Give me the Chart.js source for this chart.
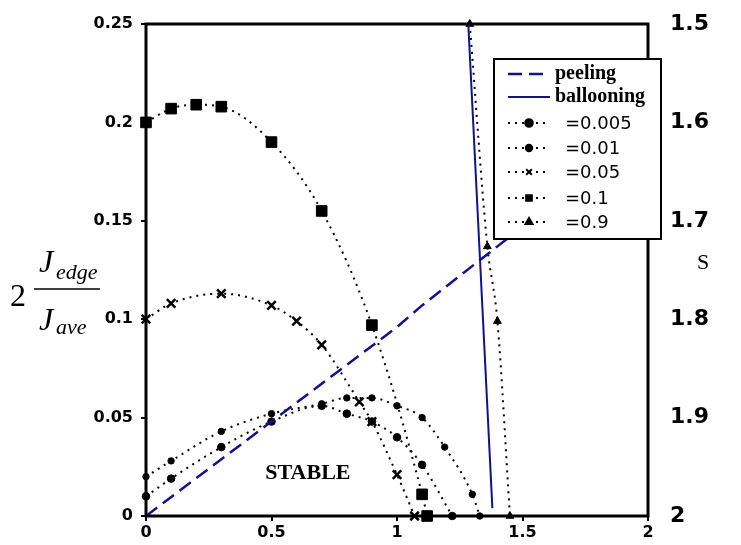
<!DOCTYPE html>
<html>
<head>
<meta charset="utf-8">
<script src="https://cdn.jsdelivr.net/npm/chart.js@4.4.1/dist/chart.umd.min.js"></script>
<style>
html,body{margin:0;padding:0;background:#fff;}
#wrap{width:741px;height:545px;position:relative;}
</style>
</head>
<body>
<div id="wrap"><canvas id="c" width="741" height="545"></canvas></div>
<script>
// ---- data ----
const seriesLabels = ['peeling', 'ballooning', '=0.005', '=0.01', '=0.05', '=0.1', '=0.9'];

const peelingX = [0, 0.5, 1.0, 1.1, 1.5];
const peelingY = [0, 0.048, 0.096, 0.107, 0.147];

const ballooningX = [1.284, 1.38];
const ballooningY = [0.25, 0.004];

const s005X = [0, 0.1, 0.3, 0.5, 0.7, 0.8, 0.9, 1.0, 1.1, 1.22];
const s005Y = [0.01, 0.019, 0.035, 0.048, 0.056, 0.052, 0.048, 0.040, 0.026, 0];

const s01X = [0, 0.1, 0.3, 0.5, 0.7, 0.8, 0.9, 1.0, 1.1, 1.19, 1.3, 1.33];
const s01Y = [0.02, 0.028, 0.043, 0.052, 0.057, 0.06, 0.06, 0.056, 0.05, 0.035, 0.011, 0];

const s05X = [0, 0.1, 0.3, 0.5, 0.6, 0.7, 0.85, 0.9, 1.0, 1.07];
const s05Y = [0.1, 0.108, 0.113, 0.107, 0.099, 0.087, 0.058, 0.048, 0.021, 0];

const s1X = [0, 0.1, 0.2, 0.3, 0.5, 0.7, 0.9, 1.1, 1.12];
const s1Y = [0.2, 0.207, 0.209, 0.208, 0.19, 0.155, 0.097, 0.011, 0];

const s9X = [1.29, 1.36, 1.4, 1.45];
const s9Y = [0.25, 0.137, 0.099, 0];

const xRange = [0, 2];      const xStep = 0.5;
const yRange = [0, 0.25];   const yStep = 0.05;
const sRange = [1.5, 2];    const sStep = 0.1;
const stableText = 'STABLE';
const yTitle = {lead: '2', num: 'J', numSub: 'edge', den: 'J', denSub: 'ave'};
const sTitle = 'S';

// ---- chart ----
const navy = '#12128e';
const numFont = '"DejaVu Sans", "Liberation Sans", Arial, sans-serif';
const serif = '"Liberation Serif", "Times New Roman", serif';

function pts(xs, ys) { return xs.map((x, i) => ({x: x, y: ys[i]})); }
function fmt(v) { return String(Number(Number(v).toFixed(4))); }
function noPad(s) { s.paddingTop = 0; s.paddingBottom = 0; s.paddingLeft = 0; s.paddingRight = 0; }

function dotted(label, xs, ys, style, radius, bw) {
  return {
    label: label, data: pts(xs, ys),
    borderColor: '#000', backgroundColor: '#000',
    borderWidth: 2, borderDash: [2, 5],
    pointStyle: style, pointRadius: radius, pointHoverRadius: radius,
    pointBorderWidth: bw, pointBackgroundColor: '#000', pointBorderColor: '#000',
    cubicInterpolationMode: 'monotone', fill: false, clip: 12,
    legendRadius: Math.min(radius, 4)
  };
}

const datasets = [
  {label: seriesLabels[0], data: pts(peelingX, peelingY), borderColor: navy, backgroundColor: navy,
   borderWidth: 2.5, borderDash: [14, 7], pointRadius: 0, fill: false, tension: 0},
  {label: seriesLabels[1], data: pts(ballooningX, ballooningY), borderColor: navy, backgroundColor: navy,
   borderWidth: 2, pointRadius: 0, fill: false, tension: 0},
  dotted(seriesLabels[2], s005X, s005Y, 'circle', 3.8, 1),
  dotted(seriesLabels[3], s01X, s01Y, 'circle', 3.2, 1),
  dotted(seriesLabels[4], s05X, s05Y, 'crossRot', 6, 2.5),
  dotted(seriesLabels[5], s1X, s1Y, 'rect', 7.5, 1),
  dotted(seriesLabels[6], s9X, s9Y, 'triangle', 4.5, 1)
];

const overlay = {
  id: 'overlay',
  afterDatasetsDraw(chart) {
    const ctx = chart.ctx, a = chart.chartArea, sx = chart.scales.x, sy = chart.scales.y;
    ctx.save();
    ctx.fillStyle = '#000';
    ctx.font = 'bold 22px ' + serif;
    ctx.textAlign = 'center'; ctx.textBaseline = 'middle';
    ctx.fillText(stableText, sx.getPixelForValue(0.645), sy.getPixelForValue(0.0215));
    ctx.lineWidth = 3; ctx.strokeStyle = '#000';
    ctx.strokeRect(a.left, a.top, a.right - a.left, a.bottom - a.top);
    ctx.restore();
  },
  afterDraw(chart) {
    const ctx = chart.ctx;
    ctx.save();
    // left axis title: 2 * J_edge / J_ave
    ctx.fillStyle = '#000';
    ctx.textBaseline = 'alphabetic'; ctx.textAlign = 'left';
    ctx.font = '32px ' + serif;
    ctx.fillText(yTitle.lead, 10, 306);
    ctx.font = 'italic 32px ' + serif;
    ctx.fillText(yTitle.num, 39, 272);
    ctx.fillText(yTitle.den, 39, 330);
    ctx.font = 'italic 22px ' + serif;
    ctx.fillText(yTitle.numSub, 56, 279);
    ctx.fillText(yTitle.denSub, 56, 334);
    ctx.lineWidth = 1.5; ctx.strokeStyle = '#000';
    ctx.beginPath(); ctx.moveTo(34, 289); ctx.lineTo(100, 289); ctx.stroke();
    // right axis title
    ctx.font = '22px ' + serif;
    ctx.textAlign = 'center'; ctx.textBaseline = 'middle';
    ctx.fillText(sTitle, 703, 263);

    // legend box
    const L = 494, T = 59, R = 661, B = 239;
    ctx.fillStyle = '#fff';
    ctx.fillRect(L, T, R - L, B - T);
    ctx.lineWidth = 2; ctx.strokeStyle = '#000';
    ctx.strokeRect(L, T, R - L, B - T);
    const rowsY = [74, 97, 123, 148, 172, 198, 222];
    chart.data.datasets.forEach((ds, i) => {
      const y = rowsY[i];
      ctx.save();
      ctx.strokeStyle = ds.borderColor;
      ctx.lineWidth = ds.borderWidth;
      ctx.setLineDash(ds.borderDash || []);
      ctx.beginPath();
      if (i < 2) { ctx.moveTo(508, y); ctx.lineTo(550, y); }
      else { ctx.moveTo(508, y); ctx.lineTo(546, y); }
      ctx.stroke();
      ctx.setLineDash([]);
      if (ds.pointRadius > 0) {
        ctx.fillStyle = '#000'; ctx.strokeStyle = '#000';
        Chart.helpers.drawPoint(ctx, {pointStyle: ds.pointStyle, radius: ds.legendRadius, rotation: 0,
          borderWidth: ds.pointStyle === 'crossRot' ? 2 : 1}, 529, y);
      }
      ctx.fillStyle = '#000';
      ctx.textAlign = 'left'; ctx.textBaseline = 'middle';
      if (i < 2) { ctx.font = 'bold 20px ' + serif; ctx.fillText(ds.label, 555, y); }
      else { ctx.font = '18px ' + numFont; ctx.fillText(ds.label, 565, y + 1); }
      ctx.restore();
    });
    ctx.restore();
  }
};

new Chart(document.getElementById('c'), {
  type: 'line',
  data: {datasets: datasets},
  plugins: [overlay],
  options: {
    responsive: false, devicePixelRatio: 1, animation: false,
    layout: {padding: {top: 24, left: 0, right: 0, bottom: 0}},
    plugins: {legend: {display: false}, tooltip: {enabled: false}},
    elements: {line: {borderCapStyle: 'butt'}},
    scales: {
      x: {
        type: 'linear', min: xRange[0], max: xRange[1],
        ticks: {stepSize: xStep, color: '#000', font: {family: numFont, size: 16, weight: 'bold'}, padding: 2, maxRotation: 0, callback: fmt},
        grid: {display: true, drawOnChartArea: false, drawTicks: true, tickLength: 5, color: '#000', lineWidth: 2},
        border: {display: false},
        afterFit(s) { s.height = 29; noPad(s); }
      },
      y: {
        type: 'linear', position: 'left', min: yRange[0], max: yRange[1],
        ticks: {stepSize: yStep, color: '#000', font: {family: numFont, size: 16, weight: 'bold'}, padding: 8, callback: fmt},
        grid: {display: true, drawOnChartArea: false, drawTicks: true, tickLength: 5, color: '#000', lineWidth: 2},
        border: {display: false},
        afterFit(s) { s.width = 146; noPad(s); }
      },
      y2: {
        type: 'linear', position: 'right', min: sRange[0], max: sRange[1], reverse: true,
        ticks: {stepSize: sStep, color: '#000', font: {family: numFont, size: 22, weight: 'bold'}, padding: 14, callback: fmt},
        grid: {display: false},
        border: {display: false},
        afterFit(s) { s.width = 93; noPad(s); }
      }
    }
  }
});
</script>
</body>
</html>
